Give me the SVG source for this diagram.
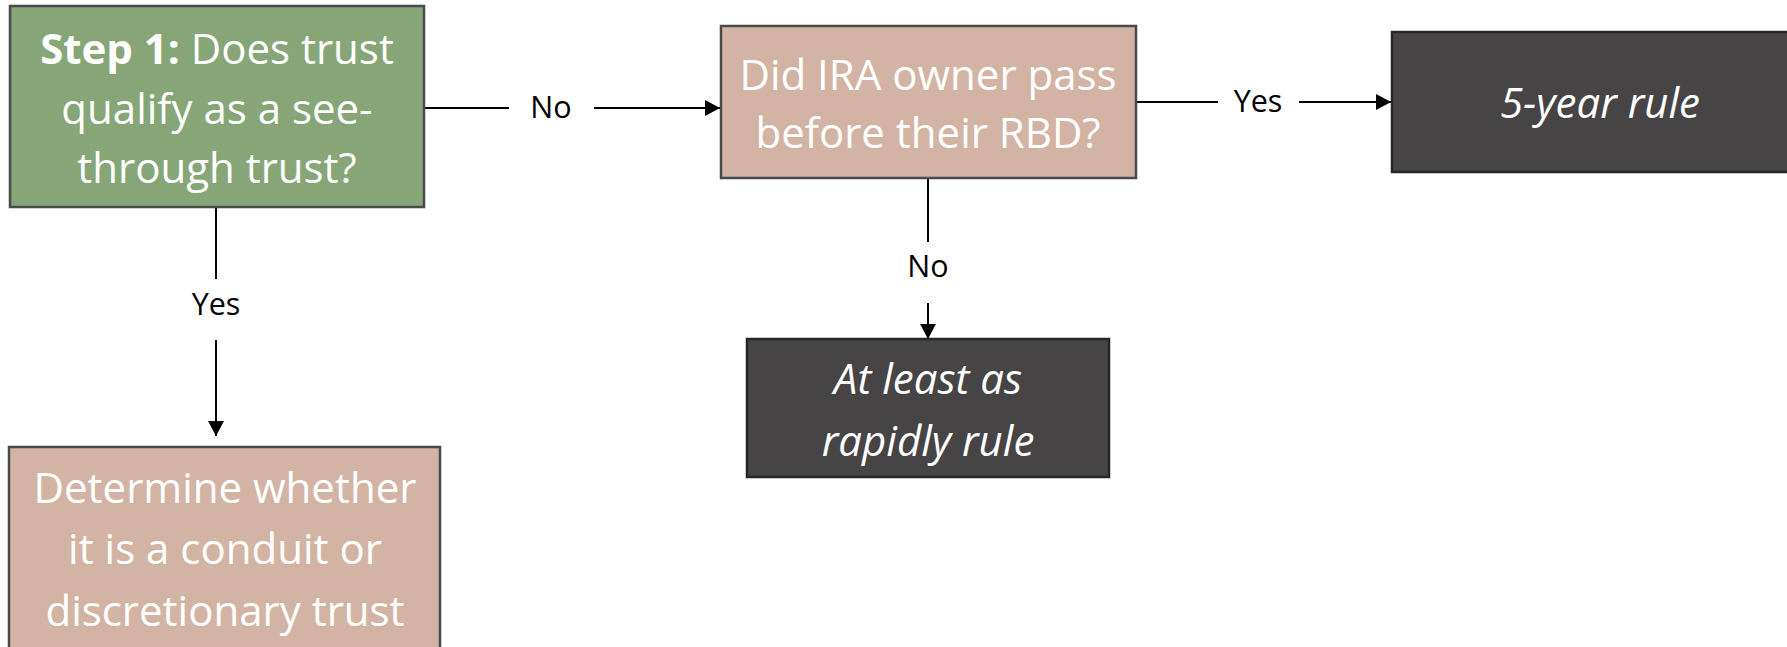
<svg xmlns="http://www.w3.org/2000/svg" width="1787" height="647" viewBox="0 0 1787 647">
  <style>
    .box { stroke: #4a4a4a; stroke-width: 2.5; }
    .green { fill: #87A677; }
    .tan { fill: #D3B4A4; }
    .dark { fill: #464445; stroke: #262626; }
    .t { font-family: "Open Sans", Lato, sans-serif; font-size: 42px; fill: #ffffff; text-anchor: middle; }
    .it { font-style: italic; }
    .lbl { font-family: "Open Sans", Lato, sans-serif; font-size: 30.5px; fill: #000000; text-anchor: middle; }
    .edge { stroke: #000000; stroke-width: 2; fill: none; }
  </style>
  <defs>
    <marker id="arrow" viewBox="0 0 10 10" refX="10" refY="5" markerWidth="7.5" markerHeight="8" markerUnits="strokeWidth" orient="auto" preserveAspectRatio="none">
      <path d="M0,0 L10,5 L0,10 z" fill="#000000"/>
    </marker>
  </defs>

  <g id="connectors">
    <!-- Step 1 -> No -> IRA owner question -->
    <line class="edge" x1="424" y1="108" x2="509" y2="108"/>
    <text class="lbl" x="551" y="118">No</text>
    <line class="edge" x1="594" y1="108" x2="720" y2="108" marker-end="url(#arrow)"/>
    <!-- IRA owner question -> Yes -> 5-year rule -->
    <line class="edge" x1="1136" y1="102" x2="1218" y2="102"/>
    <text class="lbl" x="1258" y="112">Yes</text>
    <line class="edge" x1="1299" y1="102" x2="1391" y2="102" marker-end="url(#arrow)"/>
    <!-- Step 1 -> Yes -> conduit/discretionary -->
    <line class="edge" x1="216" y1="207" x2="216" y2="279"/>
    <text class="lbl" x="216" y="315">Yes</text>
    <line class="edge" x1="216" y1="340" x2="216" y2="436" marker-end="url(#arrow)"/>
    <!-- IRA owner question -> No -> at least as rapidly -->
    <line class="edge" x1="928" y1="178" x2="928" y2="242"/>
    <text class="lbl" x="928" y="277">No</text>
    <line class="edge" x1="928" y1="303" x2="928" y2="339" marker-end="url(#arrow)"/>
  </g>

  <g id="step1">
    <rect class="box green" x="10" y="6" width="414" height="201"/>
    <text class="t" x="217" y="64"><tspan font-weight="bold">Step 1:</tspan> Does trust</text>
    <text class="t" x="217" y="124">qualify as a see-</text>
    <text class="t" x="217" y="183">through trust?</text>
  </g>

  <g id="ira-owner">
    <rect class="box tan" x="721" y="26" width="415" height="152"/>
    <text class="t" x="928" y="90">Did IRA owner pass</text>
    <text class="t" x="928" y="148">before their RBD?</text>
  </g>

  <g id="five-year">
    <rect class="box dark" x="1392" y="32" width="400" height="140"/>
    <text class="t it" x="1600" y="118">5-year rule</text>
  </g>

  <g id="at-least-as-rapidly">
    <rect class="box dark" x="747" y="339" width="362" height="138"/>
    <text class="t it" x="928" y="394">At least as</text>
    <text class="t it" x="928" y="456">rapidly rule</text>
  </g>

  <g id="conduit-or-discretionary">
    <rect class="box tan" x="9" y="447" width="431" height="210"/>
    <text class="t" x="225" y="503">Determine whether</text>
    <text class="t" x="225" y="564">it is a conduit or</text>
    <text class="t" x="225" y="626">discretionary trust</text>
  </g>
</svg>
